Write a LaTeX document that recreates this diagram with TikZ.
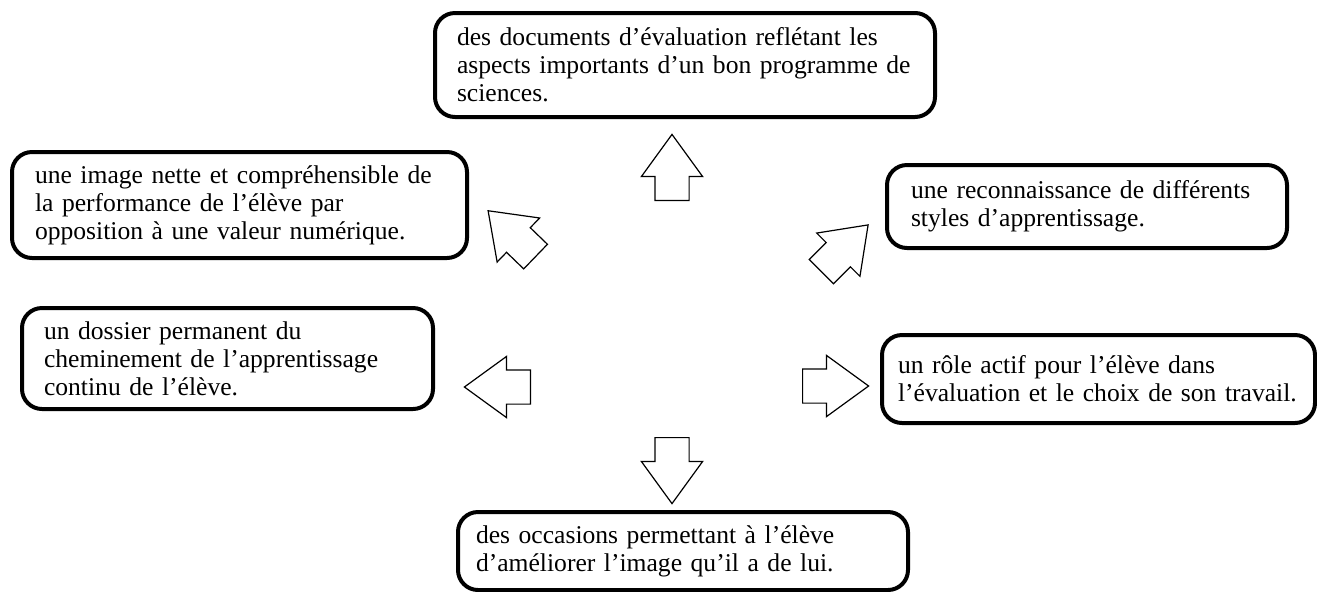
\documentclass[tikz,border=0pt]{standalone}
\usepackage{fontspec}
\setmainfont{Liberation Serif}
\usepackage{tikz}
\usetikzlibrary{shapes.arrows}

\begin{document}
\begin{tikzpicture}
  [x=0.5pt,y=-0.5pt,
   remark/.style={rectangle,draw=black,line width=2pt,rounded corners=10pt,
                  align=left,inner xsep=11pt,inner ysep=0pt,
                  font=\fontsize{12.8}{14}\selectfont},
   pointer/.style={single arrow,draw=black,line width=0.6pt,
                   inner xsep=0pt,inner ysep=8.25pt,minimum height=33pt,
                   single arrow head extend=6.75pt,single arrow tip angle=72,
                   anchor=tail}]
  \useasboundingbox (0,0) rectangle (1317,591);
  \node[remark,text width=228pt,minimum height=52pt] (eval) at (685,65)
    {des documents d’évaluation reflétant les\\
     aspects importants d’un bon programme de\\
     sciences.};
  \node[remark,inner xsep=11.5pt,text width=204.5pt,minimum height=53pt] (image) at (239.5,205)
    {une image nette et compréhensible de\\
     la performance de l’élève par\\
     opposition à une valeur numérique.};
  \node[remark,inner xsep=12pt,text width=176pt,minimum height=41.5pt] (styles) at (1087,206.5)
    {une reconnaissance de différents\\
     styles d’apprentissage.};
  \node[remark,text width=183.5pt,minimum height=50.5pt] (dossier) at (227.5,358.5)
    {un dossier permanent du\\
     cheminement de l’apprentissage\\
     continu de l’élève.};
  \node[remark,inner xsep=8pt,text width=200.5pt,minimum height=44pt] (role) at (1098.5,379)
    {un rôle actif pour l’élève dans\\
     l’évaluation et le choix de son travail.};
  \node[remark,inner xsep=9pt,text width=207pt,minimum height=39pt] (occasions) at (683,551)
    {des occasions permettant à l’élève\\
     d’améliorer l’image qu’il a de lui.};
  % block arrows round the centre
  \node[pointer,rotate=90] (arrN) at (672,201) {};
  \node[pointer,rotate=-90] (arrS) at (672,437) {};
  \node[pointer,rotate=180] (arrW) at (531,387) {};
  \node[pointer] (arrE) at (802,386) {};
  \node[pointer,rotate=136] (arrNW) at (536,257) {};
  \node[pointer,rotate=45] (arrNE) at (821,272) {};
\end{tikzpicture}
\end{document}
